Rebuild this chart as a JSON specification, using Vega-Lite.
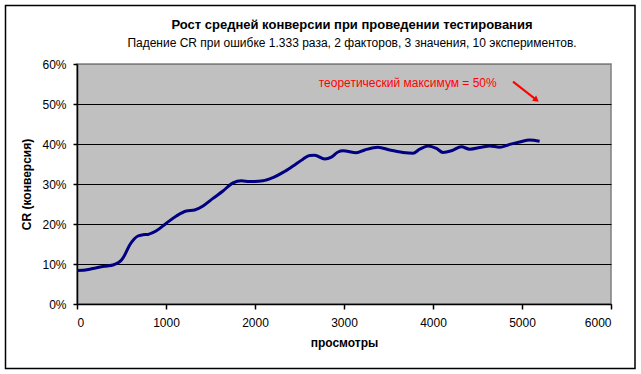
{
  "$schema": "https://vega.github.io/schema/vega-lite/v6.json",
  "width": 534,
  "height": 240,
  "autosize": {"type": "none"},
  "padding": {"left": 77, "top": 64, "right": 30, "bottom": 70},
  "background": "white",
  "title": {
    "text": "Рост средней конверсии при проведении тестирования",
    "subtitle": "Падение CR при ошибке 1.333 раза, 2 факторов, 3 значения, 10 экспериментов.",
    "anchor": "middle",
    "frame": "group",
    "dx": 8,
    "offset": -44,
    "font": "Liberation Sans",
    "fontSize": 13,
    "fontWeight": "bold",
    "color": "black",
    "subtitleFont": "Liberation Sans",
    "subtitleFontSize": 12,
    "subtitleColor": "black",
    "subtitlePadding": 6
  },
  "datasets": {
    "cr": [
      {"views": 0, "cr": 0.084},
      {"views": 70, "cr": 0.0845},
      {"views": 143, "cr": 0.087},
      {"views": 210, "cr": 0.09},
      {"views": 274, "cr": 0.093},
      {"views": 340, "cr": 0.095},
      {"views": 404, "cr": 0.0975},
      {"views": 461, "cr": 0.103},
      {"views": 500, "cr": 0.11},
      {"views": 536, "cr": 0.1225},
      {"views": 592, "cr": 0.1475},
      {"views": 640, "cr": 0.162},
      {"views": 685, "cr": 0.17},
      {"views": 740, "cr": 0.173},
      {"views": 798, "cr": 0.174},
      {"views": 892, "cr": 0.183},
      {"views": 1004, "cr": 0.202},
      {"views": 1117, "cr": 0.22},
      {"views": 1229, "cr": 0.2325},
      {"views": 1322, "cr": 0.235},
      {"views": 1416, "cr": 0.245},
      {"views": 1528, "cr": 0.264},
      {"views": 1640, "cr": 0.2825},
      {"views": 1753, "cr": 0.303},
      {"views": 1847, "cr": 0.308},
      {"views": 1940, "cr": 0.306},
      {"views": 2090, "cr": 0.308},
      {"views": 2202, "cr": 0.316},
      {"views": 2315, "cr": 0.329},
      {"views": 2427, "cr": 0.345},
      {"views": 2539, "cr": 0.362},
      {"views": 2615, "cr": 0.3715},
      {"views": 2671, "cr": 0.372},
      {"views": 2783, "cr": 0.3625},
      {"views": 2858, "cr": 0.367},
      {"views": 2933, "cr": 0.38},
      {"views": 2989, "cr": 0.383},
      {"views": 3139, "cr": 0.378},
      {"views": 3233, "cr": 0.385},
      {"views": 3382, "cr": 0.392},
      {"views": 3513, "cr": 0.385},
      {"views": 3663, "cr": 0.379},
      {"views": 3775, "cr": 0.377},
      {"views": 3851, "cr": 0.387},
      {"views": 3944, "cr": 0.395},
      {"views": 4038, "cr": 0.389},
      {"views": 4112, "cr": 0.379},
      {"views": 4207, "cr": 0.383},
      {"views": 4319, "cr": 0.393},
      {"views": 4412, "cr": 0.387},
      {"views": 4544, "cr": 0.392},
      {"views": 4637, "cr": 0.395},
      {"views": 4749, "cr": 0.392},
      {"views": 4862, "cr": 0.399},
      {"views": 4974, "cr": 0.405},
      {"views": 5086, "cr": 0.41},
      {"views": 5198, "cr": 0.407}
    ],
    "note": [
      {"views": 3716, "cr": 0.553, "label": "теоретический максимум = 50%"}
    ],
    "arrow": [
      {"views": 4899, "cr": 0.556, "views2": 5140, "cr2": 0.514}
    ],
    "head": [
      {"views": 5162, "cr": 0.51}
    ]
  },
  "layer": [
    {
      "data": {"values": [{"k": 1}]},
      "mark": {"type": "rect", "filled": false, "stroke": "black", "strokeWidth": 1.5, "clip": false},
      "encoding": {
        "x": {"value": -71.5},
        "x2": {"value": 558},
        "y": {"value": -58.5},
        "y2": {"value": 304.5}
      }
    },
    {
      "data": {"name": "cr"},
      "mark": {"type": "line", "color": "#000080", "strokeWidth": 3, "interpolate": "monotone"},
      "encoding": {
        "x": {
          "field": "views",
          "type": "quantitative",
          "scale": {"domain": [0, 6000], "nice": false},
          "axis": {
            "title": "просмотры",
            "values": [0, 1000, 2000, 3000, 4000, 5000, 6000],
            "tickCount": 10,
            "grid": false,
            "tickSize": 5,
            "labelPadding": 8,
            "titlePadding": 9,
            "format": "d"
          }
        },
        "y": {
          "field": "cr",
          "type": "quantitative",
          "scale": {"domain": [0, 0.6], "nice": false},
          "axis": {
            "title": "CR (конверсия)",
            "values": [0, 0.1, 0.2, 0.3, 0.4, 0.5, 0.6],
            "tickCount": 10,
            "format": ".0%",
            "grid": true,
            "labelOverlap": false,
            "gridColor": {"condition": {"test": "datum.value >= 0.6", "value": "#808080"}, "value": "black"},
            "tickSize": 4,
            "labelPadding": 7,
            "titlePadding": 8
          }
        }
      }
    },
    {
      "data": {"name": "note"},
      "mark": {"type": "text", "color": "#FF0000", "font": "Liberation Sans", "fontSize": 12, "align": "center", "baseline": "middle"},
      "encoding": {
        "x": {"field": "views", "type": "quantitative"},
        "y": {"field": "cr", "type": "quantitative"},
        "text": {"field": "label"}
      }
    },
    {
      "data": {"name": "arrow"},
      "mark": {"type": "rule", "color": "#FF0000", "strokeWidth": 2},
      "encoding": {
        "x": {"field": "views", "type": "quantitative"},
        "y": {"field": "cr", "type": "quantitative"},
        "x2": {"field": "views2"},
        "y2": {"field": "cr2"}
      }
    },
    {
      "data": {"name": "head"},
      "mark": {"type": "point", "shape": "triangle-right", "filled": true, "color": "#FF0000", "size": 45, "angle": 38, "opacity": 1},
      "encoding": {
        "x": {"field": "views", "type": "quantitative"},
        "y": {"field": "cr", "type": "quantitative"}
      }
    }
  ],
  "config": {
    "view": {"fill": "#C0C0C0", "stroke": "#808080", "strokeWidth": 1.5},
    "axis": {
      "domainColor": "black",
      "domainWidth": 1.5,
      "tickColor": "black",
      "tickWidth": 1.5,
      "gridOpacity": 1,
      "gridWidth": 1.2,
      "labelFont": "Liberation Sans",
      "labelFontSize": 12,
      "labelColor": "black",
      "titleFont": "Liberation Sans",
      "titleFontSize": 12,
      "titleFontWeight": "bold",
      "titleColor": "black"
    }
  }
}
